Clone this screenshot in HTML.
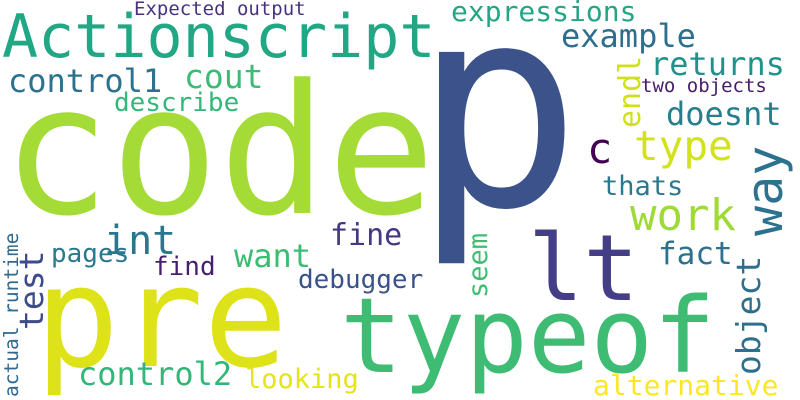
<!DOCTYPE html>
<html><head><meta charset="utf-8"><style>
html,body{margin:0;padding:0;background:#fff;}
svg{display:block;}
text{font-family:"DejaVu Sans Mono","Liberation Mono",monospace;}
</style></head><body>
<svg width="800" height="400" viewBox="0 0 800 400">
<rect width="800" height="400" fill="#fff"/>
<text x="413" y="205" font-size="280" fill="#3b528b">p</text>
<text x="2" y="213" font-size="180" fill="#a5db36">code</text>
<text x="2" y="57" font-size="60" fill="#22a785">Actionscript</text>
<text x="134" y="15" font-size="19" fill="#46327e">Expected output</text>
<text x="8" y="92" font-size="32" fill="#2c728e">control1</text>
<text x="184" y="88" font-size="33" fill="#3bbb75">cout</text>
<text x="114" y="111" font-size="26" fill="#35b779">describe</text>
<text x="451" y="21" font-size="28" fill="#25a584">expressions</text>
<text x="561" y="47" font-size="32" fill="#2e6e8e">example</text>
<text x="650" y="75" font-size="32" fill="#21918c">returns</text>
<text transform="translate(640,128) rotate(-90)" font-size="30" fill="#d0e11c">endl</text>
<text x="641" y="92" font-size="19" fill="#481a6c">two objects</text>
<text x="666" y="125" font-size="32" fill="#277f8e">doesnt</text>
<text x="587" y="163" font-size="42" fill="#440154">c</text>
<text x="634" y="160" font-size="41" fill="#d2e21b">type</text>
<text transform="translate(782,236) rotate(-90)" font-size="50" fill="#2c728e">way</text>
<text x="602" y="195" font-size="27" fill="#2a788e">thats</text>
<text x="630" y="230" font-size="44" fill="#a0da39">work</text>
<text x="658" y="264" font-size="31" fill="#2c718e">fact</text>
<text transform="translate(760,375) rotate(-90)" font-size="33" fill="#2d708e">object</text>
<text x="528" y="300" font-size="92" fill="#433e85">lt</text>
<text x="340" y="372" font-size="104" fill="#3fbc73">typeof</text>
<text x="35" y="366" font-size="140" fill="#dde318">pre</text>
<text x="104" y="254" font-size="40" fill="#2a768e">int</text>
<text transform="translate(43,330) rotate(-90)" font-size="33" fill="#3e4a89">test</text>
<text transform="translate(18,397) rotate(-90)" font-size="19.5" fill="#31688e">actual runtime</text>
<text x="51" y="262" font-size="26" fill="#2a788e">pages</text>
<text x="153" y="275" font-size="26" fill="#481f70">find</text>
<text x="234" y="267" font-size="32" fill="#3dbc74">want</text>
<text x="330" y="245" font-size="30" fill="#453781">fine</text>
<text x="298" y="288" font-size="26" fill="#3b518b">debugger</text>
<text transform="translate(487,298) rotate(-90)" font-size="27" fill="#40bd72">seem</text>
<text x="78" y="385" font-size="32" fill="#34b679">control2</text>
<text x="245" y="388" font-size="27" fill="#e5e419">looking</text>
<text x="593" y="395" font-size="28" fill="#fde725">alternative</text>
</svg>
</body></html>
